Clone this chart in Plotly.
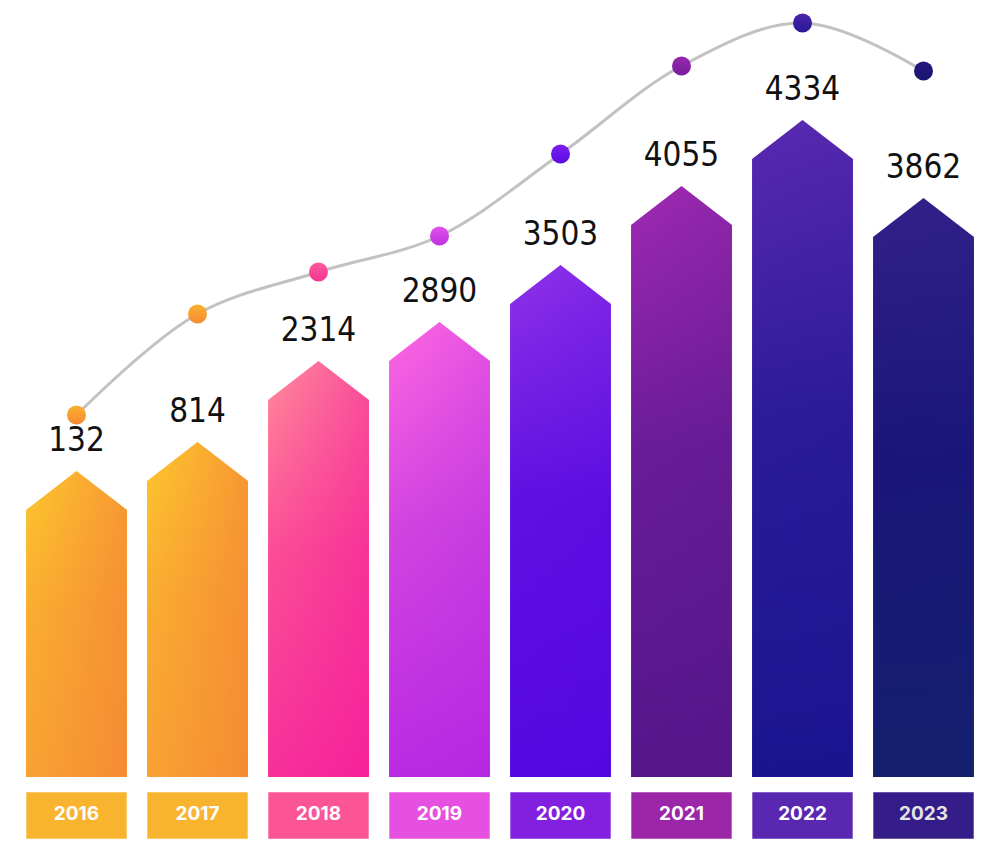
import plotly.graph_objects as go

# ---- data ----
years = ["2016", "2017", "2018", "2019", "2020", "2021", "2022", "2023"]
value_labels = ["132", "814", "2314", "2890", "3503", "4055", "4334", "3862"]
bar_height = [306, 335, 416, 455, 512, 591, 657, 579]      # arrow height (chart units)
trend_level = [362, 463, 505, 541, 623, 711, 754, 706]     # curve level (chart units)

# ---- styles ----
bar_top = ["#fdc82e", "#fdc82e", "#ff8c9a", "#ff68e2", "#9032e8", "#a12ab2", "#5b29b2", "#33208a"]
bar_mid = ["#f9ae30", "#f9ae30", "#fb4f96", "#d345e0", "#6010e2", "#6a1c98", "#2c1b9a", "#1a157a"]
bar_bot = ["#f8a232", "#f8a232", "#f7309a", "#ba2ae2", "#5508e0", "#55168a", "#1a1490", "#14206e"]
bar_tint = [(244, 127, 53, 0.65), (244, 127, 53, 0.65), (244, 21, 154, 0.5),
            (170, 34, 224, 0.3), (80, 6, 222, 0.25), (78, 21, 136, 0.2),
            (24, 18, 140, 0.1), (18, 32, 110, 0.1)]
box_colors = ["#f9b42f", "#f9b42f", "#fc5596", "#e650e0", "#8220e0", "#9b27a8", "#5a28b0", "#341d88"]
year_text_colors = ["white"] * 7 + ["#e4e4e4"]
dot_top = ["#fbb02e", "#fbb02e", "#ff5a9a", "#e052e8", "#7a20ee", "#9428ac", "#4a24aa", "#24187e"]
dot_bot = ["#f58a35", "#f58a35", "#f43592", "#c030e0", "#5a0ae0", "#7a1e9e", "#2a1896", "#1a1570"]

HALF_W = 0.417
CAP = 39
BOX_TOP = -15
BOX_BOT = -62
LABEL_GAP = 12

fig = go.Figure()

idx = list(range(len(years)))

# arrow bars
for i, h in enumerate(bar_height):
    xs = [i - HALF_W, i - HALF_W, i, i + HALF_W, i + HALF_W, i - HALF_W]
    ys = [0, h - CAP, h, h - CAP, 0, 0]
    r, g, b, a = bar_tint[i]
    fig.add_trace(go.Scatter(
        x=xs, y=ys, mode="lines", fill="toself", line=dict(width=0),
        fillgradient=dict(type="vertical",
                          colorscale=[[0, bar_bot[i]], [0.55, bar_mid[i]], [1, bar_top[i]]]),
        hoverinfo="skip", showlegend=False))
    fig.add_trace(go.Scatter(
        x=xs, y=ys, mode="lines", fill="toself", line=dict(width=0),
        fillgradient=dict(type="horizontal",
                          colorscale=[[0, f"rgba({r},{g},{b},0)"], [1, f"rgba({r},{g},{b},{a})"]]),
        hoverinfo="skip", showlegend=False))

# year boxes
fig.add_trace(go.Bar(
    x=idx, y=[BOX_TOP - BOX_BOT] * len(years), base=BOX_BOT, width=2 * HALF_W,
    marker=dict(color=box_colors, line=dict(color="rgba(255,255,255,0.5)", width=1)),
    hoverinfo="skip", showlegend=False))
fig.add_trace(go.Scatter(
    x=idx, y=[(BOX_TOP + BOX_BOT) / 2] * len(years), mode="text", text=years,
    textfont=dict(family="Inter, Roboto, sans-serif", size=19, color=year_text_colors, weight="bold"),
    hoverinfo="skip", showlegend=False))

# value labels
fig.add_trace(go.Scatter(
    x=idx, y=[h + LABEL_GAP for h in bar_height], mode="text", text=value_labels,
    textposition="top center",
    textfont=dict(family="DejaVu Sans Condensed, sans-serif", size=33, color="#111111"),
    hoverinfo="skip", showlegend=False))

# trend curve
fig.add_trace(go.Scatter(
    x=idx, y=trend_level, mode="lines",
    line=dict(color="#c2c2c2", width=3, shape="spline", smoothing=1.0),
    hoverinfo="skip", showlegend=False))
fig.add_trace(go.Scatter(
    x=idx, y=trend_level, mode="markers",
    marker=dict(size=19, color=dot_top, line=dict(width=0),
                gradient=dict(type="vertical", color=dot_bot)),
    hoverinfo="skip", showlegend=False))

fig.update_layout(
    width=1000, height=862,
    margin=dict(l=0, r=0, t=0, b=0),
    paper_bgcolor="white", plot_bgcolor="white",
    xaxis=dict(range=[-76.5 / 121, (1000 - 76.5) / 121], visible=False, fixedrange=True),
    yaxis=dict(range=[-85, 777], visible=False, fixedrange=True),
    barmode="overlay",
)

fig.write_html("out.html")
